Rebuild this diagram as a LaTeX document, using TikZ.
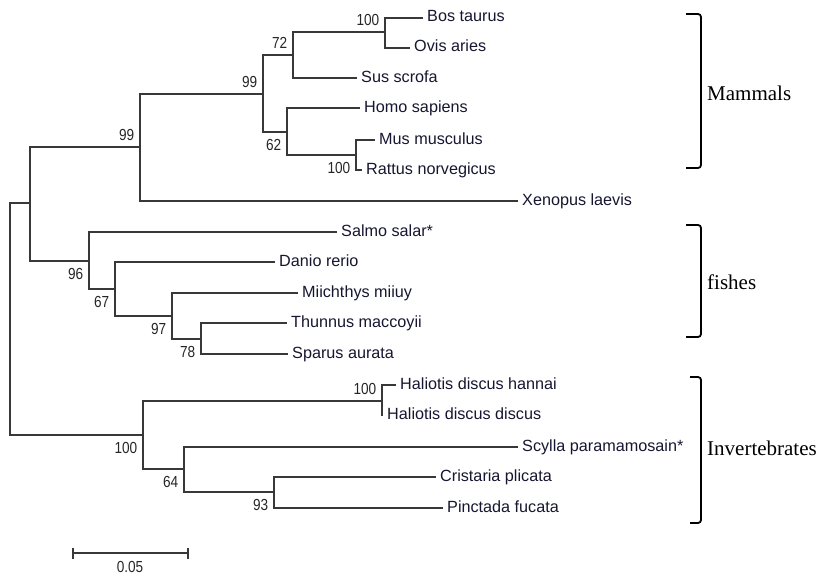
\documentclass[tikz,border=0pt]{standalone}
\usepackage{fontspec}
\setmainfont{Liberation Serif}
\setsansfont{Liberation Sans}
\newfontfamily\bsfont[FakeStretch=0.85]{Liberation Sans}
\definecolor{taxon}{RGB}{22,22,48}
\begin{document}
\begin{tikzpicture}[x=1pt, y=-1pt,
	branch/.style={line width=1.3pt, black!78},
	leaf/.style={anchor=west, inner xsep=4pt, inner ysep=0pt, text height=11.5pt, text depth=3.5pt, text=taxon, font=\sffamily\fontsize{16.2}{17}\selectfont},
	bsup/.style={anchor=south east, inner xsep=5.5pt, inner ysep=6pt, text=black!85, font=\bsfont\fontsize{16}{17}\selectfont},
	bsdown/.style={bsup, anchor=north east, inner ysep=7pt},
	clade/.style={line width=1.8pt, rounded corners=3pt},
	group/.style={anchor=base west, inner sep=0pt, font=\fontsize{21}{24}\selectfont}]
	\useasboundingbox (0,0) rectangle (819,578);
	% internal nodes of the tree
	\coordinate (root) at (10,319);
	\coordinate (vert) at (30,203);
	\coordinate (tetra) at (140,147);
	\coordinate (mam) at (263,94);
	\coordinate (ung) at (293,55);
	\coordinate (bov) at (385,32);
	\coordinate (hmr) at (287,132);
	\coordinate (mur) at (356,155);
	\coordinate (fish) at (89,261);
	\coordinate (fishb) at (115,289);
	\coordinate (perc) at (172,316);
	\coordinate (spa) at (201,339);
	\coordinate (inv) at (143,435);
	\coordinate (hal) at (382,401);
	\coordinate (scyb) at (184,469);
	\coordinate (biv) at (274,492);
	% taxa
	\node[leaf] (bos) at (423,18) {Bos taurus};
	\node[leaf] (ovis) at (410,48) {Ovis aries};
	\node[leaf] (sus) at (357,78) {Sus scrofa};
	\node[leaf] (homo) at (360,108) {Homo sapiens};
	\node[leaf] (mus) at (375,140) {Mus musculus};
	\node[leaf] (rat) at (362,170) {Rattus norvegicus};
	\node[leaf] (xen) at (518,201) {Xenopus laevis};
	\node[leaf] (salmo) at (337,232) {Salmo salar*};
	\node[leaf] (danio) at (275,262) {Danio rerio};
	\node[leaf] (miic) at (298,293) {Miichthys miiuy};
	\node[leaf] (thun) at (287,323) {Thunnus maccoyii};
	\node[leaf] (spar) at (288,354) {Sparus aurata};
	\node[leaf] (hdh) at (396,385) {Haliotis discus hannai};
	\node[leaf] (hdd) at (383,415) {Haliotis discus discus};
	\node[leaf] (scy) at (518,447) {Scylla paramamosain*};
	\node[leaf] (cris) at (436,477) {Cristaria plicata};
	\node[leaf] (pinc) at (443,508) {Pinctada fucata};
	% branches
	\foreach \a/\b in {root/vert, root/inv, vert/tetra, vert/fish, tetra/mam, tetra/xen, mam/ung, mam/hmr,
		ung/bov, ung/sus, bov/bos, bov/ovis, hmr/homo, hmr/mur, mur/mus, mur/rat,
		fish/salmo, fish/fishb, fishb/danio, fishb/perc, perc/miic, perc/spa, spa/thun, spa/spar,
		inv/hal, inv/scyb, hal/hdh, hal/hdd, scyb/scy, scyb/biv, biv/cris, biv/pinc}
		\draw[branch] (\a) |- (\b);
	% bootstrap values
	\foreach \n/\v in {bov/100, ung/72, mam/99, tetra/99, hal/100}
		\node[bsup] (bs-\n) at (\n) {\v};
	\foreach \n/\v in {hmr/62, mur/100, fish/96, fishb/67, perc/97, spa/78, inv/100, scyb/64, biv/93}
		\node[bsdown] (bs-\n) at (\n) {\v};
	% groups
	\coordinate (mam-t) at (686,14);
	\coordinate (mam-b) at (686,168);
	\coordinate (fis-t) at (686,225);
	\coordinate (fis-b) at (686,337);
	\coordinate (inv-t) at (690,377);
	\coordinate (inv-b) at (690,523);
	\draw[clade] (mam-t) -- (701,14) |- (mam-b);
	\draw[clade] (fis-t) -- (701,225) |- (fis-b);
	\draw[clade] (inv-t) -- (701,377) |- (inv-b);
	\node[group] (g-mam) at (707,100) {Mammals};
	\node[group] (g-fis) at (707,289) {fishes};
	\node[group] (g-inv) at (707,455) {Invertebrates};
	% scale bar
	\coordinate (sb-l) at (73,553);
	\coordinate (sb-r) at (188,553);
	\draw[branch] (sb-l) -- (sb-r);
	\draw[branch] ([yshift=-5.5pt]sb-l) -- ([yshift=5.5pt]sb-l);
	\draw[branch] ([yshift=-5.5pt]sb-r) -- ([yshift=5.5pt]sb-r);
	\node[bsup, anchor=base, inner sep=0pt] (sb-lab) at (130,572) {0.05};
\end{tikzpicture}
\end{document}
